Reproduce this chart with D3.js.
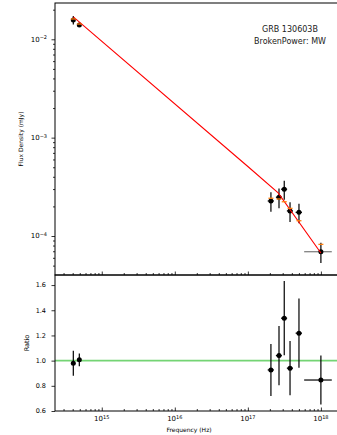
<!DOCTYPE html>
<html>
<head>
<meta charset="utf-8">
<title>GRB 130603B SED fit</title>
<style>
  body { margin: 0; background: #fff; }
  svg { display: block; font-family: "DejaVu Sans", sans-serif; }
  .axis path { display: none; }
  .axis line { stroke: #000; stroke-width: 0.8; }
</style>
</head>
<body>
<div id="chart"></div>
<script src="https://d3js.org/d3.v7.min.js"></script>
<script>
// values
var nu       = [4.08e14, 4.93e14, 2.07e17, 2.67e17, 3.15e17, 3.78e17, 5.01e17, 1.0e18];
var nuErr    = [1.0e13, 1.2e13, 0.2e17, 0.25e17, 0.3e17, 0.36e17, 0.5e17, 4.1e17];
var flux     = [0.0157, 0.0140, 2.27e-4, 2.48e-4, 2.99e-4, 1.80e-4, 1.74e-4, 6.92e-5];
var fluxErr  = [0.0016, 0.0007, 0.51e-4, 0.56e-4, 0.66e-4, 0.41e-4, 0.39e-4, 1.6e-5];
var model    = [0.0161, 0.0143, 2.42e-4, 2.38e-4, 2.23e-4, 1.91e-4, 1.43e-4, 8.22e-5];
var ratio    = [0.979, 1.006, 0.926, 1.04, 1.337, 0.94, 1.218, 0.846];
var ratioErr = [0.10, 0.05, 0.207, 0.235, 0.295, 0.215, 0.275, 0.195];

// broken power law model line
var lineNu   = [4.08e14, 1e17, 2.6e17, 1e18];
var lineFlux = [0.01687, 5.09e-4, 2.74e-4, 6.71e-5];

var freqTicks  = [1e15, 1e16, 1e17, 1e18];
var fluxTicks  = [1e-4, 1e-3, 1e-2];
var ratioTicks = [0.6, 0.8, 1.0, 1.2, 1.4, 1.6];
var labelLines = ["GRB 130603B", "BrokenPower: MW"];

var pts = nu.map(function (d, i) {
    return { nu: d, nuErr: nuErr[i], flux: flux[i], fluxErr: fluxErr[i],
             model: model[i], ratio: ratio[i], ratioErr: ratioErr[i] };
});

var W = 337, H = 435;
var left = 55, right = 345;
var topY = 3, midY = 275, botY = 411;

var svg = d3.select("#chart").append("svg")
    .attr("width", W).attr("height", H);

var x = d3.scaleLog().domain([Math.pow(10, 14.36), Math.pow(10, 18.33)]).range([left, right]);
var y = d3.scaleLog().domain([Math.pow(10, -4.3965), Math.pow(10, -1.631)]).range([midY, topY]);
var yr = d3.scaleLinear().domain([0.6, 1.68]).range([botY, midY]);

// minor ticks for the log axes
function minorTicks(scale) {
    var dom = scale.domain(), out = [];
    var lo = Math.floor(Math.log10(dom[0])), hi = Math.ceil(Math.log10(dom[1]));
    for (var e = lo; e <= hi; e++) {
        for (var k = 2; k <= 9; k++) {
            var v = k * Math.pow(10, e);
            if (v >= dom[0] && v <= dom[1]) out.push(v);
        }
    }
    return out;
}

function supLabel(sel, exp) {
    sel.text("");
    sel.append("tspan").text("10");
    sel.append("tspan").attr("dy", "-0.45em").attr("font-size", "5px")
        .text(String(exp).replace("-", "\u2212"));
}

// clip paths
var defs = svg.append("defs");
defs.append("clipPath").attr("id", "clipTop").append("rect")
    .attr("x", left).attr("y", topY).attr("width", right - left).attr("height", midY - topY);
defs.append("clipPath").attr("id", "clipBot").append("rect")
    .attr("x", left).attr("y", midY).attr("width", right - left).attr("height", botY - midY);

// ---------- top panel ----------
var topG = svg.append("g").attr("clip-path", "url(#clipTop)");

// data error bars
topG.selectAll(".ey").data(pts).enter().append("line")
    .attr("x1", function (d) { return x(d.nu); })
    .attr("x2", function (d) { return x(d.nu); })
    .attr("y1", function (d) { return y(d.flux + d.fluxErr); })
    .attr("y2", function (d) { return y(d.flux - d.fluxErr); })
    .attr("stroke", "#000").attr("stroke-width", 1.2);

topG.selectAll(".ex").data(pts).enter().append("line")
    .attr("x1", function (d) { return x(d.nu - d.nuErr); })
    .attr("x2", function (d) { return x(d.nu + d.nuErr); })
    .attr("y1", function (d) { return y(d.flux); })
    .attr("y2", function (d) { return y(d.flux); })
    .attr("stroke", function (d) { return d.nuErr > 1e17 ? "#777" : "#000"; })
    .attr("stroke-width", 1.2);

topG.selectAll(".pt").data(pts).enter().append("circle")
    .attr("cx", function (d) { return x(d.nu); })
    .attr("cy", function (d) { return y(d.flux); })
    .attr("r", 2.5).attr("fill", "#000");

// model line
var line = d3.line()
    .x(function (d) { return x(d[0]); })
    .y(function (d) { return y(d[1]); });
topG.append("path")
    .datum(lineNu.map(function (d, i) { return [d, lineFlux[i]]; }))
    .attr("d", line)
    .attr("fill", "none").attr("stroke", "#ff0000").attr("stroke-width", 1.1);

// model values at the data points
topG.selectAll(".mod").data(pts).enter().append("line")
    .attr("x1", function (d) { return x(d.nu) - 2.5; })
    .attr("x2", function (d) { return x(d.nu) + 2.5; })
    .attr("y1", function (d) { return y(d.model); })
    .attr("y2", function (d) { return y(d.model); })
    .attr("stroke", "#ff7f0e").attr("stroke-width", 1.3);

// annotation
svg.selectAll(".lbl").data(labelLines).enter().append("text")
    .attr("x", 290).attr("y", function (d, i) { return 32 + i * 11.5; })
    .attr("text-anchor", "middle").attr("font-size", "8px").attr("fill", "#222")
    .text(function (d) { return d; });

// ---------- bottom panel ----------
var botG = svg.append("g").attr("clip-path", "url(#clipBot)");

botG.append("line")
    .attr("x1", left).attr("x2", right)
    .attr("y1", yr(1)).attr("y2", yr(1))
    .attr("stroke", "#74d474").attr("stroke-width", 1.8);

botG.selectAll(".ry").data(pts).enter().append("line")
    .attr("x1", function (d) { return x(d.nu); })
    .attr("x2", function (d) { return x(d.nu); })
    .attr("y1", function (d) { return yr(d.ratio + d.ratioErr); })
    .attr("y2", function (d) { return yr(d.ratio - d.ratioErr); })
    .attr("stroke", "#000").attr("stroke-width", 1.2);

botG.selectAll(".rx").data(pts).enter().append("line")
    .attr("x1", function (d) { return x(d.nu - d.nuErr); })
    .attr("x2", function (d) { return x(d.nu + d.nuErr); })
    .attr("y1", function (d) { return yr(d.ratio); })
    .attr("y2", function (d) { return yr(d.ratio); })
    .attr("stroke", "#000").attr("stroke-width", 1.2);

botG.selectAll(".rp").data(pts).enter().append("circle")
    .attr("cx", function (d) { return x(d.nu); })
    .attr("cy", function (d) { return yr(d.ratio); })
    .attr("r", 2.5).attr("fill", "#000");

// ---------- axes ----------
// x ticks (inside) on both panels
[midY, botY].forEach(function (yy) {
    svg.append("g").attr("class", "axis").attr("transform", "translate(0," + yy + ")")
        .call(d3.axisBottom(x).tickValues(freqTicks).tickSize(-3.5).tickFormat(""));
    svg.append("g").attr("class", "axis").attr("transform", "translate(0," + yy + ")")
        .call(d3.axisBottom(x).tickValues(minorTicks(x)).tickSize(-2).tickFormat(""));
});

svg.selectAll(".xlab").data(freqTicks).enter().append("text")
    .attr("x", function (d) { return x(d); })
    .attr("y", 421).attr("text-anchor", "middle").attr("font-size", "7px")
    .each(function (d) { supLabel(d3.select(this), Math.round(Math.log10(d))); });

// flux axis
svg.append("g").attr("class", "axis").attr("transform", "translate(" + left + ",0)")
    .call(d3.axisLeft(y).tickValues(fluxTicks).tickSize(3.5).tickFormat(""));
svg.append("g").attr("class", "axis").attr("transform", "translate(" + left + ",0)")
    .call(d3.axisLeft(y).tickValues(minorTicks(y)).tickSize(2).tickFormat(""));

svg.selectAll(".ylab").data(fluxTicks).enter().append("text")
    .attr("x", 47).attr("y", function (d) { return y(d) + 2.4; })
    .attr("text-anchor", "end").attr("font-size", "7px")
    .each(function (d) { supLabel(d3.select(this), Math.round(Math.log10(d))); });

// ratio axis
svg.append("g").attr("class", "axis").attr("transform", "translate(" + left + ",0)")
    .call(d3.axisLeft(yr).tickValues(ratioTicks).tickSize(3.5).tickFormat(""));

svg.selectAll(".rlab").data(ratioTicks).enter().append("text")
    .attr("x", 46).attr("y", function (d) { return yr(d) + 2.3; })
    .attr("text-anchor", "end").attr("font-size", "6.5px")
    .text(function (d) { return d.toFixed(1); });

// panel frames
[[topY, midY], [midY, botY]].forEach(function (p) {
    svg.append("rect")
        .attr("x", left).attr("y", p[0])
        .attr("width", right - left).attr("height", p[1] - p[0])
        .attr("fill", "none").attr("stroke", "#000").attr("stroke-width", 1);
});

// axis titles
svg.append("text")
    .attr("transform", "translate(23," + ((topY + midY) / 2) + ") rotate(-90)")
    .attr("text-anchor", "middle").attr("font-size", "6px")
    .text("Flux Density (mJy)");
svg.append("text")
    .attr("transform", "translate(29," + ((midY + botY) / 2) + ") rotate(-90)")
    .attr("text-anchor", "middle").attr("font-size", "6.5px")
    .text("Ratio");
svg.append("text")
    .attr("x", 189).attr("y", 431.5)
    .attr("text-anchor", "middle").attr("font-size", "6px")
    .text("Frequency (Hz)");
</script>
</body>
</html>
